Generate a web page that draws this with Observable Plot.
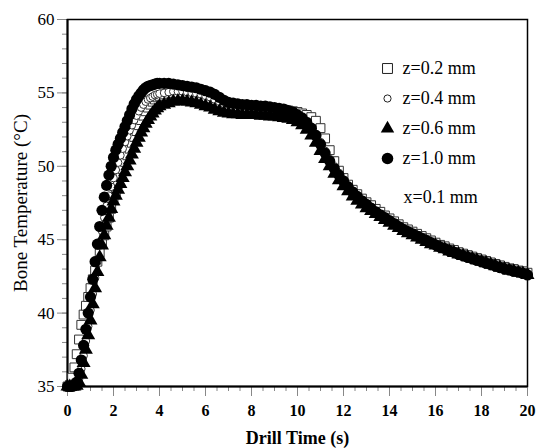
<!DOCTYPE html>
<html><head><meta charset="utf-8">
<script src="https://cdn.jsdelivr.net/npm/d3@7"></script>
<script src="https://cdn.jsdelivr.net/npm/@observablehq/plot@0.6"></script>
<style>body{margin:0;background:#fff}</style>
</head><body><div id="chart"></div>
<script>
// time stamps (s)
const tRise = [0,0.1,0.2,0.3,0.4,0.5,0.6,0.7,0.8,0.9,1.0,1.1,1.2,1.3,1.4,1.5,1.6,1.7,1.8,1.9,2.0,2.1,2.2,2.3,2.4,2.5,2.6,2.7,2.8,2.9,3.0,3.1,3.2,3.3,3.4,3.5,3.6,3.7,3.8,3.9,4.0];
const tLate = [4.2,4.4,4.6,4.8,5.0,5.2,5.4,5.6,5.8,6.0,6.2,6.4,6.6,6.8,7.0,7.2,7.4,7.6,7.8,8.0,8.2,8.4,8.6,8.8,9.0,9.2,9.4,9.6,9.8,10.0,10.2,10.4,10.6,10.8,11.0,11.2,11.4,11.6,11.8,12.0,12.2,12.4,12.6,12.8,13.0,13.2,13.4,13.6,13.8,14.0,14.2,14.4,14.6,14.8,15.0,15.2,15.4,15.6,15.8,16.0,16.2,16.4,16.6,16.8,17.0,17.2,17.4,17.6,17.8,18.0,18.2,18.4,18.6,18.8,19.0,19.2,19.4,19.6,19.8,20.0];

// z = 0.2 mm (open squares)
const z02 = [35,35.1,35.6,36.3,37.2,38.2,39.2,39.9,40.5,41.1,41.7,42.3,42.9,43.5,44.1,44.7,45.3,45.9,46.5,47.1,47.7,48.25,48.8,49.3,49.8,50.3,50.75,51.2,51.6,52.0,52.4,52.8,53.15,53.45,53.75,54.0,54.2,54.4,54.55,54.7,54.8,
 54.9,54.95,55.0,55.0,55.0,54.95,54.9,54.85,54.8,54.7,
 54.6,54.5,54.35,54.2,54.1,54.0,54.0,53.95,53.95,53.95,
 53.95,53.95,53.9,53.9,53.9,53.85,53.85,53.8,53.75,53.7,
 53.6,53.5,53.35,53.1,52.6,51.9,51.1,50.35,49.7,49.2,
 48.75,48.4,48.1,47.8,47.55,47.35,47.1,46.9,46.65,46.45,
 46.25,46.05,45.85,45.7,45.55,45.4,45.25,45.1,44.95,44.8,
 44.65,44.55,44.4,44.3,44.15,44.05,43.95,43.85,43.75,43.65,
 43.55,43.45,43.35,43.25,43.15,43.05,43.0,42.9,42.85,42.75];
// z = 0.4 mm (open circles)
const z04 = [35,35,35,35,35.1,35.5,36.2,37.1,38.1,39.1,40.2,41.3,42.4,43.5,44.6,45.6,46.5,47.3,48.0,48.6,49.2,49.75,50.25,50.75,51.2,51.65,52.05,52.45,52.8,53.15,53.45,53.75,54.0,54.2,54.4,54.55,54.65,54.75,54.85,54.9,54.95,
 55.0,55.05,55.1,55.1,55.1,55.05,55.0,54.95,54.9,54.8,
 54.7,54.55,54.4,54.25,54.1,54.0,53.95,53.9,53.9,53.85,
 53.85,53.85,53.8,53.8,53.75,53.75,53.7,53.65,53.55,53.4,
 53.25,53.0,52.65,52.2,51.65,51.05,50.5,50.0,49.55,49.1,
 48.7,48.35,48.0,47.7,47.45,47.2,46.95,46.75,46.55,46.35,
 46.15,45.95,45.75,45.6,45.45,45.3,45.15,45.0,44.85,44.7,
 44.55,44.45,44.3,44.2,44.05,43.95,43.85,43.75,43.65,43.55,
 43.45,43.35,43.25,43.15,43.05,42.95,42.9,42.8,42.75,42.65];
// z = 0.6 mm (filled triangles)
const z06 = [35,35,35,35,35.05,35.3,35.8,36.6,37.5,38.5,39.5,40.6,41.7,42.8,43.8,44.6,45.3,45.95,46.5,47.1,47.6,48.0,48.4,48.8,49.2,49.6,50.0,50.4,50.8,51.2,51.6,51.95,52.3,52.6,52.9,53.15,53.4,53.6,53.8,53.95,54.1,
 54.2,54.3,54.4,54.45,54.45,54.4,54.35,54.3,54.2,54.1,
 54.0,53.85,53.75,53.65,53.6,53.55,53.55,53.5,53.5,53.5,
 53.5,53.45,53.45,53.4,53.4,53.35,53.3,53.25,53.15,53.0,
 52.8,52.5,52.1,51.6,51.05,50.5,50.0,49.5,49.05,48.65,
 48.3,47.95,47.65,47.4,47.15,46.95,46.75,46.55,46.35,46.15,
 45.95,45.8,45.6,45.45,45.3,45.15,45.0,44.85,44.7,44.6,
 44.45,44.35,44.2,44.1,44.0,43.9,43.8,43.7,43.6,43.5,
 43.4,43.3,43.2,43.1,43.0,42.9,42.85,42.75,42.7,42.6];
// z = 1.0 mm (filled circles)
const z10 = [35,35,35,35.05,35.3,35.9,36.8,37.8,38.9,40.0,41.1,42.3,43.5,44.7,45.9,47.0,47.9,48.7,49.4,50.0,50.6,51.1,51.5,51.9,52.3,52.7,53.1,53.5,53.9,54.25,54.55,54.8,55.0,55.2,55.35,55.45,55.5,55.55,55.6,55.65,55.65,
 55.65,55.65,55.6,55.55,55.5,55.45,55.4,55.35,55.25,55.15,
 55.05,54.9,54.7,54.5,54.35,54.3,54.25,54.2,54.2,54.15,
 54.15,54.1,54.1,54.05,54.0,53.95,53.9,53.8,53.7,53.5,
 53.3,53.0,52.6,52.1,51.5,50.9,50.35,49.85,49.4,49.0,
 48.6,48.25,47.95,47.65,47.4,47.15,46.9,46.7,46.5,46.3,
 46.1,45.9,45.7,45.55,45.4,45.25,45.1,44.95,44.8,44.65,
 44.5,44.4,44.25,44.15,44.0,43.9,43.8,43.7,43.6,43.5,
 43.4,43.3,43.2,43.1,43.0,42.95,42.85,42.8,42.7,42.6];

const seriesNames = ["z=0.2 mm", "z=0.4 mm", "z=0.6 mm", "z=1.0 mm"];
const noteText = "x=0.1 mm";
const xTicks = [0,2,4,6,8,10,12,14,16,18,20];
const yTicks = [35,40,45,50,55,60];
const xTitle = "Drill Time (s)";
const yTitle = "Bone Temperature (\u00B0C)";

const time = tRise.concat(tLate);
const series = [z02, z04, z06, z10];
series.forEach((s, k) => { if (s.length !== time.length) console.error("length mismatch", k, s.length, time.length); });
const rows = series.map((vals, k) => vals.map((v, i) => ({t: time[i], v, k})));

const looks = [
  {symbol: "square", r: 5, fill: "white", stroke: "#333", strokeWidth: 1},
  {symbol: "circle", r: 3.8, fill: "white", stroke: "#333", strokeWidth: 1},
  {symbol: "triangle", r: 5.2, fill: "black", stroke: "none"},
  {symbol: "circle", r: 5.6, fill: "black", stroke: "none"}
];
const legendLooks = [
  {symbol: "square", r: 5.6, fill: "white", stroke: "#222", strokeWidth: 1},
  {symbol: "circle", r: 3.6, fill: "white", stroke: "#222", strokeWidth: 1},
  {symbol: "triangle", r: 5, fill: "black", stroke: "none"},
  {symbol: "circle", r: 5.8, fill: "black", stroke: "none"}
];

const font = "'Liberation Serif', 'Times New Roman', serif";
const xMinor = d3.range(0, 20.001, 0.5);
const yMinor = d3.range(35, 60.001, 1);

const legendMarks = [];
seriesNames.forEach((name, i) => {
  legendMarks.push(Plot.dot([name], {frameAnchor: "top-right", dx: -140, dy: 49 + 30 * i, ...legendLooks[i]}));
  legendMarks.push(Plot.text([name], {frameAnchor: "top-right", text: d => d, dx: -125, dy: 49 + 30 * i, textAnchor: "start", lineAnchor: "middle", fontSize: 18, fill: "black"}));
});
legendMarks.push(Plot.text([noteText], {frameAnchor: "top-right", text: d => d, dx: -124, dy: 178, textAnchor: "start", lineAnchor: "middle", fontSize: 18, fill: "black"}));

const chart = Plot.plot({
  width: 538,
  height: 448,
  marginLeft: 67,
  marginRight: 11,
  marginTop: 19,
  marginBottom: 62,
  style: {fontFamily: font, background: "white", color: "black"},
  x: {domain: [0, 20]},
  y: {domain: [35, 60]},
  marks: [
    Plot.axisY(yMinor, {tickSize: 5, tickFormat: () => "", label: null, stroke: "#888"}),
    Plot.axisY(yTicks, {tickSize: 10, tickPadding: 3, fontSize: 17, label: null, stroke: "#888", fill: "black"}),
    Plot.axisX(xMinor, {tickSize: 5, tickFormat: () => "", label: null, stroke: "#888"}),
    Plot.axisX(xTicks, {tickSize: 10, tickPadding: 8, fontSize: 16, fontWeight: "bold", label: null, stroke: "#888", fill: "black"}),
    Plot.frame({stroke: "black", strokeWidth: 1.5}),
    Plot.ruleX([0], {stroke: "black", strokeWidth: 2}),
    Plot.ruleY([35], {stroke: "black", strokeWidth: 2}),
    ...rows.map((r, k) => Plot.dot(r, {x: "t", y: "v", ...looks[k]})),
    ...legendMarks,
    Plot.text([xTitle], {frameAnchor: "bottom", text: d => d, dy: 52, lineAnchor: "middle", fontSize: 18, fontWeight: "bold", fill: "black"}),
    Plot.text([yTitle], {frameAnchor: "left", text: d => d, dx: -47, rotate: -90, textAnchor: "middle", lineAnchor: "middle", fontSize: 19, fill: "black"})
  ]
});
document.getElementById("chart").appendChild(chart);
</script>
</body></html>
